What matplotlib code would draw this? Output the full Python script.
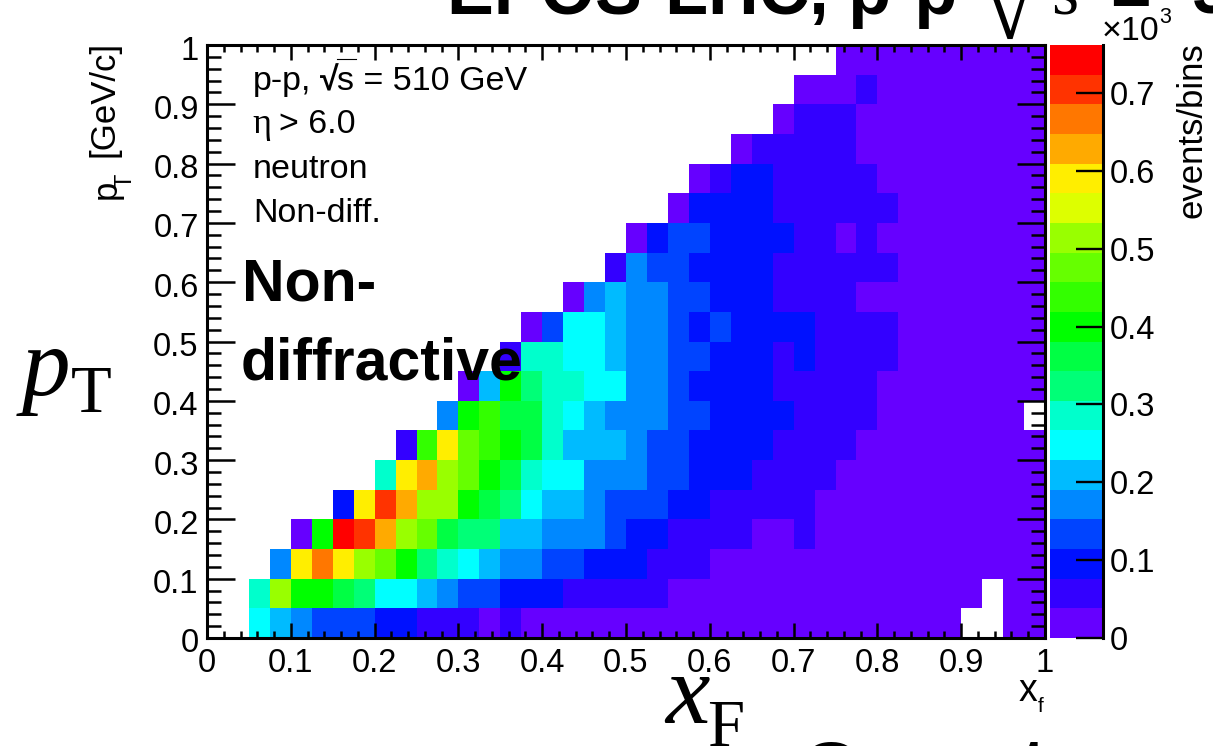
#!/usr/bin/env python3
"""neutron pT vs xF, EPOS-LHC non-diffractive, ROOT style colz plot"""

import numpy as np
import matplotlib
matplotlib.use('Agg')
import matplotlib.pyplot as plt
from matplotlib.colors import ListedColormap, BoundaryNorm
from matplotlib.lines import Line2D
from matplotlib.transforms import ScaledTranslation

W, H = 1213, 746
SANS = 'Liberation Sans'
SERIF = 'Liberation Serif'

# palette bands of the z axis, bottom to top
band_colors = ['#6600ff', '#3300ff', '#0011ff', '#0044ff', '#0088ff',
               '#00bbff', '#00ffff', '#00ffcc', '#00ff77', '#00ff44',
               '#00ff00', '#33ff00', '#66ff00', '#99ff00', '#ddff00',
               '#ffee00', '#ffaa00', '#ff7700', '#ff3300', '#ff0000']
z_max = 0.7616

# band index read for each cell, -1 = empty bin
# one row per pT bin (0.05 wide), 40 xF bins (0.025 wide)
row_00 = [-1,-1,6,5,4,3,3,3,2,2, 1,1,1,0,1,0,0,0,0,0, 0,0,0,0,0,0,0,0,0,0, 0,0,0,0,0,0,-1,-1,0,0]
row_01 = [-1,-1,7,13,10,10,9,8,6,6, 5,4,3,3,2,2,2,1,1,1, 1,1,0,0,0,0,0,0,0,0, 0,0,0,0,0,0,0,-1,0,0]
row_02 = [-1,-1,-1,4,15,17,15,13,12,10, 8,7,6,5,4,4,3,3,2,2, 2,1,1,1,0,0,0,0,0,0, 0,0,0,0,0,0,0,0,0,0]
row_03 = [-1,-1,-1,-1,0,10,19,18,16,13, 12,9,8,8,5,5,4,4,4,3, 2,2,1,1,1,1,0,0,1,0, 0,0,0,0,0,0,0,0,0,0]
row_04 = [-1,-1,-1,-1,-1,-1,2,15,18,16, 13,13,10,9,8,6,5,5,4,3, 3,3,2,2,1,1,1,1,1,0, 0,0,0,0,0,0,0,0,0,0]
row_05 = [-1,-1,-1,-1,-1,-1,-1,-1,7,15, 16,13,12,10,9,7,6,6,4,4, 4,3,3,2,2,2,1,1,1,1, 0,0,0,0,0,0,0,0,0,0]
row_06 = [-1,-1,-1,-1,-1,-1,-1,-1,-1,1, 11,15,12,11,10,9,7,5,5,5, 4,3,3,2,2,2,2,1,1,1, 1,0,0,0,0,0,0,0,0,0]
row_07 = [-1,-1,-1,-1,-1,-1,-1,-1,-1,-1, -1,4,10,11,9,9,7,6,5,4, 4,4,3,3,2,2,2,2,1,1, 1,1,0,0,0,0,0,0,0,-1]
row_08 = [-1,-1,-1,-1,-1,-1,-1,-1,-1,-1, -1,-1,0,5,10,8,7,7,6,6, 4,4,3,2,2,2,2,1,1,1, 1,1,0,0,0,0,0,0,0,0]
row_09 = [-1,-1,-1,-1,-1,-1,-1,-1,-1,-1, -1,-1,-1,-1,1,7,7,6,6,5, 4,4,3,3,2,2,2,1,2,1, 1,1,1,0,0,0,0,0,0,0]
row_10 = [-1,-1,-1,-1,-1,-1,-1,-1,-1,-1, -1,-1,-1,-1,-1,0,3,6,6,5, 4,4,3,2,3,2,2,2,2,1, 1,1,1,0,0,0,0,0,0,0]
row_11 = [-1,-1,-1,-1,-1,-1,-1,-1,-1,-1, -1,-1,-1,-1,-1,-1,-1,0,4,5, 4,4,3,3,2,2,2,1,1,1, 1,0,0,0,0,0,0,0,0,0]
row_12 = [-1,-1,-1,-1,-1,-1,-1,-1,-1,-1, -1,-1,-1,-1,-1,-1,-1,-1,-1,1, 4,3,3,2,2,2,2,1,1,1, 1,1,1,0,0,0,0,0,0,0]
row_13 = [-1,-1,-1,-1,-1,-1,-1,-1,-1,-1, -1,-1,-1,-1,-1,-1,-1,-1,-1,-1, 0,2,3,3,2,2,2,2,1,1, 0,1,0,0,0,0,0,0,0,0]
row_14 = [-1,-1,-1,-1,-1,-1,-1,-1,-1,-1, -1,-1,-1,-1,-1,-1,-1,-1,-1,-1, -1,-1,0,2,2,2,2,1,1,1, 1,1,1,0,0,0,0,0,0,0]
row_15 = [-1,-1,-1,-1,-1,-1,-1,-1,-1,-1, -1,-1,-1,-1,-1,-1,-1,-1,-1,-1, -1,-1,-1,0,1,2,2,1,1,1, 1,1,0,0,0,0,0,0,0,0]
row_16 = [-1,-1,-1,-1,-1,-1,-1,-1,-1,-1, -1,-1,-1,-1,-1,-1,-1,-1,-1,-1, -1,-1,-1,-1,-1,0,1,1,1,1, 1,0,0,0,0,0,0,0,0,0]
row_17 = [-1,-1,-1,-1,-1,-1,-1,-1,-1,-1, -1,-1,-1,-1,-1,-1,-1,-1,-1,-1, -1,-1,-1,-1,-1,-1,-1,0,1,1, 1,0,0,0,0,0,0,0,0,0]
row_18 = [-1,-1,-1,-1,-1,-1,-1,-1,-1,-1, -1,-1,-1,-1,-1,-1,-1,-1,-1,-1, -1,-1,-1,-1,-1,-1,-1,-1,0,0, 0,1,0,0,0,0,0,0,0,0]
row_19 = [-1,-1,-1,-1,-1,-1,-1,-1,-1,-1, -1,-1,-1,-1,-1,-1,-1,-1,-1,-1, -1,-1,-1,-1,-1,-1,-1,-1,-1,-1, 0,0,0,0,0,0,0,0,0,0]

x_ticks = [0, 0.1, 0.2, 0.3, 0.4, 0.5, 0.6, 0.7, 0.8, 0.9, 1]
x_labels = ['0', '0.1', '0.2', '0.3', '0.4', '0.5', '0.6', '0.7', '0.8', '0.9', '1']
z_ticks = [0, 0.1, 0.2, 0.3, 0.4, 0.5, 0.6, 0.7]
z_labels = ['0', '0.1', '0.2', '0.3', '0.4', '0.5', '0.6', '0.7']


def px_text(fig, x, y, s, **kw):
    """text placed by pixel position, y counted from the top"""
    kw.setdefault('family', SANS)
    kw.setdefault('color', 'black')
    return fig.text(x / W, 1 - y / H, s, **kw)


def px_axes(fig, left, top, right, bottom):
    return fig.add_axes([left / W, 1 - bottom / H, (right - left) / W, (bottom - top) / H])


def main():
    fig = plt.figure(figsize=(W / 100, H / 100), dpi=100)

    bands = np.array([row_00, row_01, row_02, row_03, row_04, row_05, row_06,
                      row_07, row_08, row_09, row_10, row_11, row_12, row_13,
                      row_14, row_15, row_16, row_17, row_18, row_19], dtype=float)
    band_w = z_max / len(band_colors)
    z = np.ma.masked_less((bands + 0.5) * band_w, 0)

    cmap = ListedColormap(band_colors)
    z_edges = np.linspace(0, z_max, len(band_colors) + 1)
    norm = BoundaryNorm(z_edges, cmap.N)

    x_edges = np.linspace(0, 1, 41)
    y_edges = np.linspace(0, 1, 21)

    ax = px_axes(fig, 207, 45, 1045, 638)
    ax.pcolormesh(x_edges, y_edges, z, cmap=cmap, norm=norm, antialiased=False, linewidth=0)
    ax.set_xlim(0, 1)
    ax.set_ylim(0, 1)
    ax.set_xticks(x_ticks)
    ax.set_xticklabels(x_labels, family=SANS, fontsize=23.5)
    ax.set_yticks(x_ticks)
    ax.set_yticklabels(x_labels, family=SANS, fontsize=23.5)
    ax.set_xticks(np.arange(0, 1.001, 0.02), minor=True)
    ax.set_yticks(np.arange(0, 1.001, 0.02), minor=True)
    ax.tick_params(axis='x', which='major', direction='in', top=True, length=10.5, width=1.8, pad=7)
    ax.tick_params(axis='x', which='minor', direction='in', top=True, length=5, width=1.8)
    ax.tick_params(axis='y', which='major', direction='in', right=True, length=20, width=1.8, pad=6)
    ax.tick_params(axis='y', which='minor', direction='in', right=True, length=10, width=1.8)
    for spine in ax.spines.values():
        spine.set_linewidth(2.2)

    # ROOT puts the y labels a little below the tick
    shift = ScaledTranslation(0, -2.5 / 100, fig.dpi_scale_trans)
    for lab in ax.get_yticklabels():
        lab.set_transform(lab.get_transform() + shift)

    # colour scale
    cax = px_axes(fig, 1050, 45, 1103, 638)
    cax.pcolormesh([0, 1], z_edges, (z_edges[:-1] + band_w / 2).reshape(-1, 1),
                   cmap=cmap, norm=norm, antialiased=False, linewidth=0)
    cax.set_xlim(0, 1)
    cax.set_ylim(0, z_max)
    cax.set_xticks([])
    cax.yaxis.tick_right()
    cax.set_yticks(z_ticks)
    cax.set_yticklabels(z_labels, family=SANS, fontsize=23.5)
    cax.tick_params(axis='y', direction='in', length=19.5, width=1.7, pad=5)
    for name in ['top', 'left', 'bottom']:
        cax.spines[name].set_visible(False)
    cax.spines['right'].set_linewidth(2.2)

    # axis titles of the original plot
    px_text(fig, 104, 157, '[GeV/c]', fontsize=25, rotation=90, ha='center', va='bottom')
    px_text(fig, 106, 199, 'p', fontsize=25, rotation=90, ha='center', va='bottom')
    px_text(fig, 136, 188, 'T', fontsize=17, rotation=90, ha='right', va='bottom')
    px_text(fig, 1192, 218, 'events/bins', fontsize=25, rotation=90, ha='center', va='bottom')
    px_text(fig, 1019, 701, 'x', fontsize=27, va='baseline')
    px_text(fig, 1038, 712, 'f', fontsize=15, va='baseline')
    px_text(fig, 1102, 40, '×10', fontsize=24.5, va='baseline')
    px_text(fig, 1159, 23, '3', fontsize=15.5, va='baseline')

    # inner labels
    px_text(fig, 253, 90, 'p-p,', fontsize=24.5, va='baseline')
    px_text(fig, 320, 90, '√', fontsize=24.5, fontweight='bold', va='baseline')
    px_text(fig, 337, 90, 's = 510 GeV', fontsize=24.5, va='baseline')
    fig.add_artist(Line2D([337 / W, 356 / W], [1 - 59 / H, 1 - 59 / H], color='black', lw=0.8))
    px_text(fig, 252, 133, 'η', fontsize=26, va='baseline', family=SERIF)
    px_text(fig, 279, 133, '> 6.0', fontsize=24.5, va='baseline')
    px_text(fig, 253, 178, 'neutron', fontsize=24.5, va='baseline')
    px_text(fig, 253, 222, 'Non-diff.', fontsize=24.5, va='baseline')

    px_text(fig, 242, 300, 'Non-', fontsize=42.5, fontweight='bold', va='baseline')
    px_text(fig, 241, 379, 'diffractive', fontsize=42.5, fontweight='bold', va='baseline')

    # big labels pasted over the plot
    px_text(fig, 22, 395, 'p', fontsize=70, family=SERIF, style='italic', va='baseline')
    px_text(fig, 71, 412, 'T', fontsize=48, family=SERIF, va='baseline')
    px_text(fig, 665, 723, 'x', fontsize=72, family=SERIF, style='italic', va='baseline')
    px_text(fig, 707, 746, 'F', fontsize=48, family=SERIF, va='baseline')

    # title and footer, cut by the edge of the picture
    px_text(fig, 447, 14, 'EPOS-LHC, p-p', fontsize=50.5, fontweight='bold', va='baseline')
    px_text(fig, 983, 38, '√', fontsize=70, family=SERIF, va='baseline')
    px_text(fig, 1051, 14, 's', fontsize=50, family=SERIF, va='baseline')
    px_text(fig, 1110, 16, '=', fontsize=50, fontweight='bold', va='baseline')
    px_text(fig, 1192, 14, '510 GeV', fontsize=50.5, fontweight='bold', va='baseline')
    px_text(fig, 800, 799, 'Coun', fontsize=59, fontweight='bold', va='baseline')
    px_text(fig, 1020, 795, 'ts', fontsize=59, fontweight='bold', va='baseline')

    fig.savefig('out.png', dpi=100)


if __name__ == '__main__':
    main()
